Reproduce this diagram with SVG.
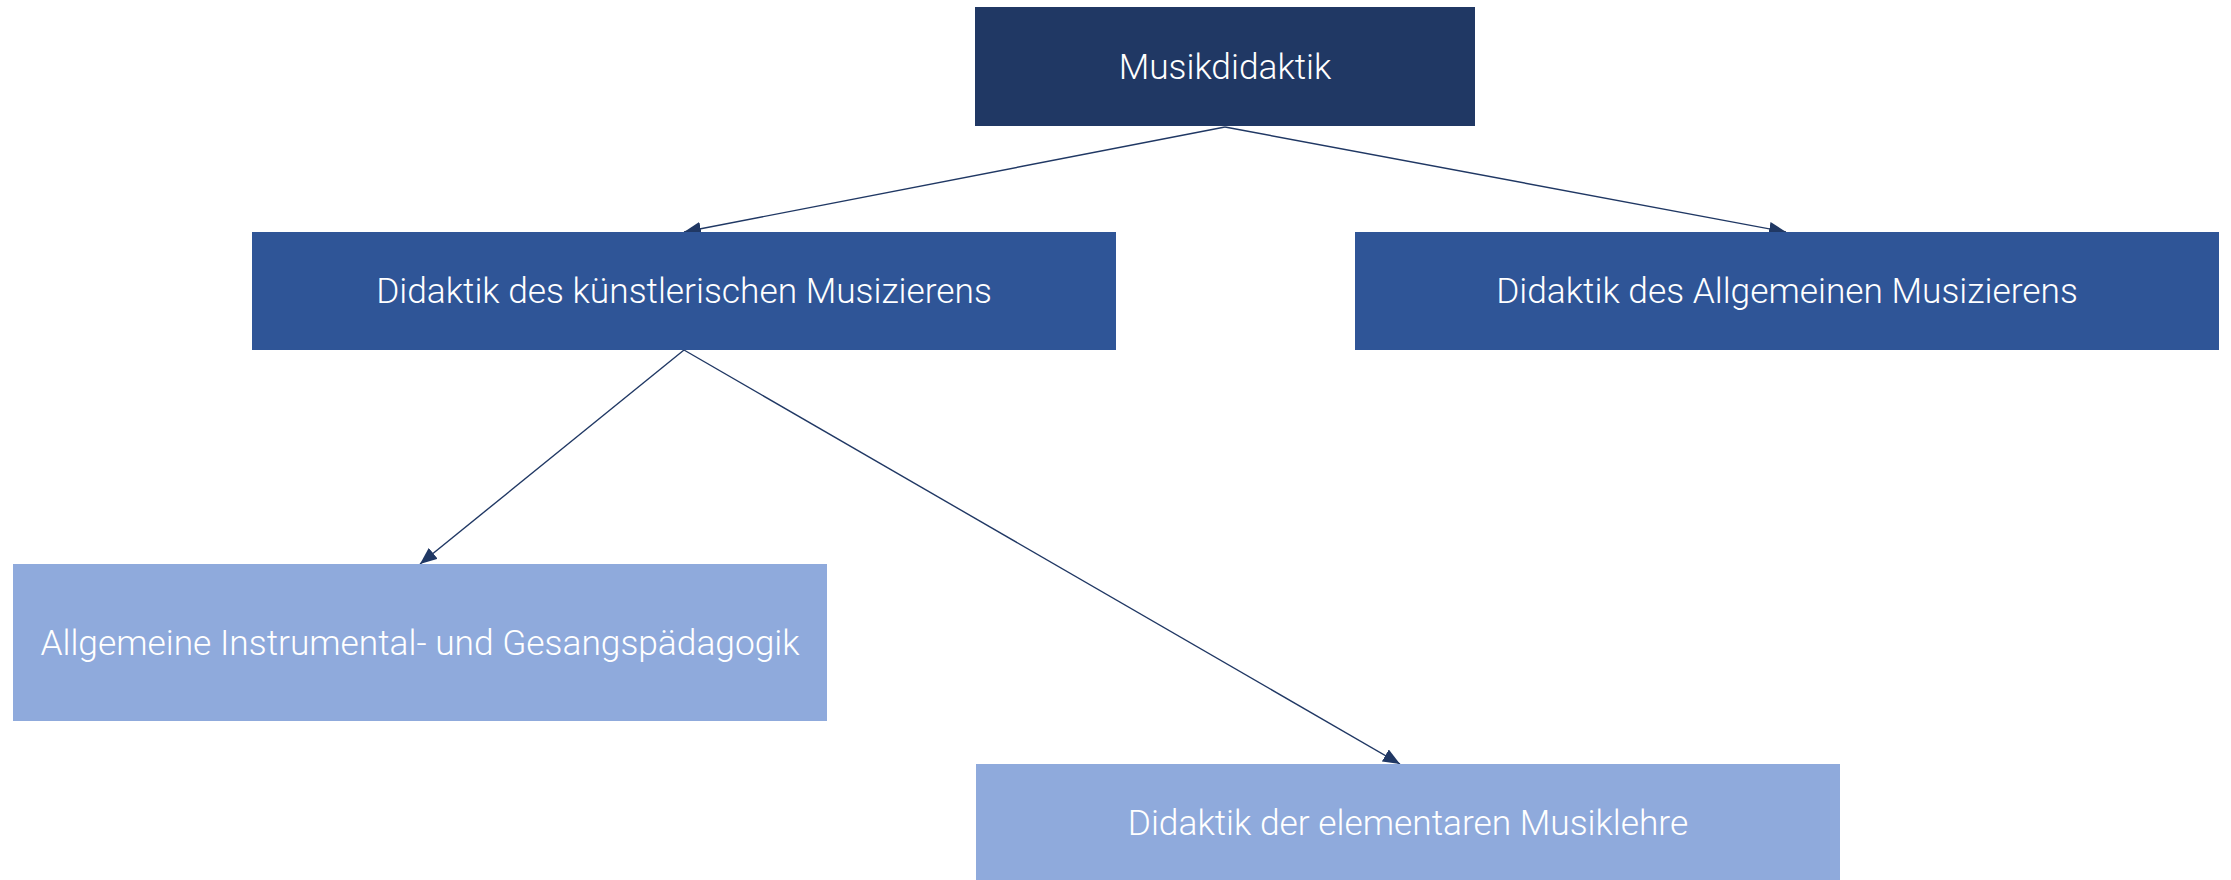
<svg xmlns="http://www.w3.org/2000/svg" width="2231" height="880" viewBox="0 0 2231 880">
<style>
.t{font-family:Roboto,"Liberation Sans",sans-serif;font-weight:300;fill:#ffffff;text-anchor:middle;font-size:35.3px}
.c{stroke:#203864;stroke-width:1.4;fill:none}
</style>
<defs>
<marker id="ah" viewBox="0 0 17 14" refX="17" refY="7" markerWidth="17" markerHeight="14" markerUnits="userSpaceOnUse" orient="auto">
<path d="M0,0 L17,7 L0,14 z" fill="#203864"/>
</marker>
</defs>
<rect width="2231" height="880" fill="#ffffff"/>
<g id="connectors">
<line class="c" x1="1225" y1="127" x2="684" y2="232" marker-end="url(#ah)"/>
<line class="c" x1="1225" y1="127" x2="1786" y2="232" marker-end="url(#ah)"/>
<line class="c" x1="684" y1="350" x2="420" y2="564" marker-end="url(#ah)"/>
<line class="c" x1="684" y1="350" x2="1400" y2="764" marker-end="url(#ah)"/>
</g>
<g id="n1">
<rect x="975" y="7" width="500" height="119" fill="#203864"/>
<text class="t" x="1225" y="79">Musikdidaktik</text>
</g>
<g id="n2">
<rect x="252" y="232" width="864" height="118" fill="#2f5597"/>
<text class="t" x="684" y="303">Didaktik des künstlerischen Musizierens</text>
</g>
<g id="n3">
<rect x="1355" y="232" width="864" height="118" fill="#2f5597"/>
<text class="t" x="1787" y="303">Didaktik des Allgemeinen Musizierens</text>
</g>
<g id="n4">
<rect x="13" y="564" width="814" height="157" fill="#8faadc"/>
<text class="t" x="420" y="655">Allgemeine Instrumental- und Gesangspädagogik</text>
</g>
<g id="n5">
<rect x="976" y="764" width="864" height="116" fill="#8faadc"/>
<text class="t" x="1408" y="835">Didaktik der elementaren Musiklehre</text>
</g>
</svg>
